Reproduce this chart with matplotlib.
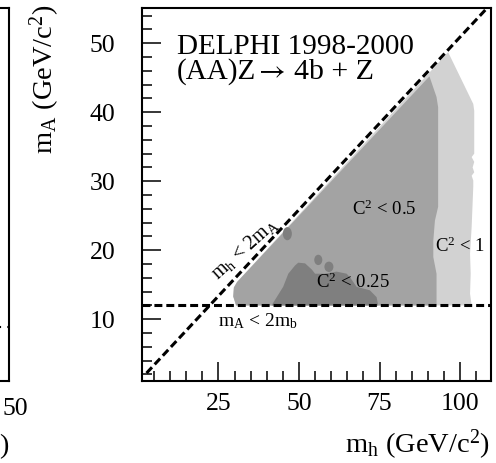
import matplotlib
matplotlib.use('Agg')
import matplotlib.pyplot as plt
from matplotlib.patches import Ellipse
from matplotlib.ticker import MultipleLocator

plt.rcParams['font.family'] = ['Liberation Serif', 'DejaVu Serif']
plt.rcParams['mathtext.fontset'] = 'stix'
plt.rcParams['mathtext.default'] = 'regular'

# excluded regions, (m_h, m_A) outlines
c1_mh = [30.5, 29.6, 29.8, 30.8, 96.3, 104.1, 104.4, 104.4, 103.6, 104.4, 103.9,
         104.4, 103.6, 104.1, 104.1, 103.6, 103.1, 103.3, 103.1, 103.6]
c1_mA = [12.0, 13.3, 14.6, 15.4, 48.7, 41.2, 40.2, 34.0, 33.5, 32.8, 32.0,
         31.3, 30.8, 30.1, 29.2, 23.4, 19.5, 16.6, 13.7, 12.0]

c05_mh = [30.5, 29.6, 29.8, 30.8, 90.5, 92.7, 93.2, 93.2, 92.2, 91.7, 91.7, 92.7, 92.7]
c05_mA = [12.0, 13.3, 14.6, 15.4, 45.2, 42.2, 40.7, 26.3, 24.3, 21.4, 19.0, 16.6, 12.0]

c025_mh = [41.5, 43.1, 45.1, 46.7, 48.8, 49.8, 51.9, 54.0, 55.0, 58.0, 61.7,
           64.8, 65.8, 67.9, 72.0, 74.1, 74.6]
c025_mA = [12.0, 13.2, 14.7, 16.6, 17.8, 18.2, 18.1, 17.2, 16.6, 16.6, 16.9,
           16.6, 16.1, 14.7, 14.2, 13.2, 12.0]

# small isolated C^2 < 0.25 islands
blob_mh = [46.4, 56.0, 59.3]
blob_mA = [22.4, 18.6, 17.6]
blob_w = [2.8, 2.5, 2.8]
blob_h = [1.9, 1.5, 1.5]

# kinematic limits
diag_mh = [2.7, 110.0]
diag_mA = [2.2, 55.9]
mA_cut = 12.0

col_light = '#d2d2d2'
col_mid = '#a3a3a3'
col_dark = '#7f7f7f'

fig = plt.figure(figsize=(4.96, 4.63), dpi=100)
ax = fig.add_axes([0.2857, 0.1778, 0.7042, 0.8049])

ax.fill(c1_mh, c1_mA, color=col_light, lw=0)
ax.fill(c05_mh, c05_mA, color=col_mid, lw=0)
ax.fill(c025_mh, c025_mA, color=col_dark, lw=0)
for x, y, w, h in zip(blob_mh, blob_mA, blob_w, blob_h):
    ax.add_patch(Ellipse((x, y), w, h, color=col_dark, lw=0))

dash = (0, (2.6, 1.3))
ax.plot(diag_mh, diag_mA, color='black', lw=2.2, ls=dash)
ax.axhline(mA_cut, color='black', lw=2.2, ls=dash)

ax.set_xlim(1.2, 109.6)
ax.set_ylim(1.1, 55.1)
ax.xaxis.set_major_locator(MultipleLocator(25))
ax.xaxis.set_minor_locator(MultipleLocator(5))
ax.yaxis.set_major_locator(MultipleLocator(10))
ax.yaxis.set_minor_locator(MultipleLocator(2))
ax.tick_params(which='both', direction='in', top=False, right=False, width=1.1,
               labelsize=18.5)
ax.tick_params(which='major', length=13.7)
ax.tick_params(which='minor', length=7.2)
ax.tick_params(axis='y', which='major', pad=19)
ax.tick_params(axis='x', which='major', pad=9)
for s in ax.spines.values():
    s.set_linewidth(1.5)

ax.text(12.1, 48.5, 'DELPHI 1998-2000', fontsize=21, va='baseline')
ax.text(12.1, 44.8, '(AA)Z', fontsize=21, va='baseline')
ax.text(37.6, 44.8, '\u2192', fontsize=21, va='baseline', family='STIXGeneral')
ax.text(48.6, 44.8, '4b + Z', fontsize=21.5, va='baseline')

ax.text(76.4, 25.1, 'C$^2$ < 0.5', fontsize=13.5, ha='center', va='baseline')
ax.text(66.7, 14.5, 'C$^2$ < 0.25', fontsize=13.5, ha='center', va='baseline')
ax.text(100.0, 19.8, 'C$^2$ < 1', fontsize=13.5, ha='center', va='baseline')
ax.text(33.3, 20.2, 'm$_h$ < 2m$_A$', fontsize=14.5, ha='center', va='center',
        rotation=42, rotation_mode='anchor')
ax.text(37.3, 9.0, 'm$_A$ < 2m$_b$', fontsize=14, ha='center', va='baseline')

fig.text(45 / 496, 1 - 5 / 463, 'm$_A$ (GeV/c$^2$)', fontsize=20.5, rotation=90,
         ha='center', va='top')
fig.text(490 / 496, 1 - 453 / 463, 'm$_h$ (GeV/c$^2$)', fontsize=20.5,
         ha='right', va='baseline')

# edge of the neighbouring panel, cut off on the left
ax0 = fig.add_axes([-0.2813, 0.1778, 0.3, 0.8049])
ax0.set_xlim(0, 1)
ax0.set_ylim(1.1, 55.1)
ax0.axhline(8.9, color='black', lw=1.5, ls=(0, (1, 3)))
ax0.set_xticks([])
ax0.set_yticks([])
for s in ax0.spines.values():
    s.set_linewidth(1.5)
fig.text(15.8 / 496, 1 - 398 / 463, '50', fontsize=18.5, ha='center', va='top')
fig.text(8 / 496, 1 - 453 / 463, ')', fontsize=20.5, ha='right', va='baseline')

fig.savefig('out.png', dpi=100)
